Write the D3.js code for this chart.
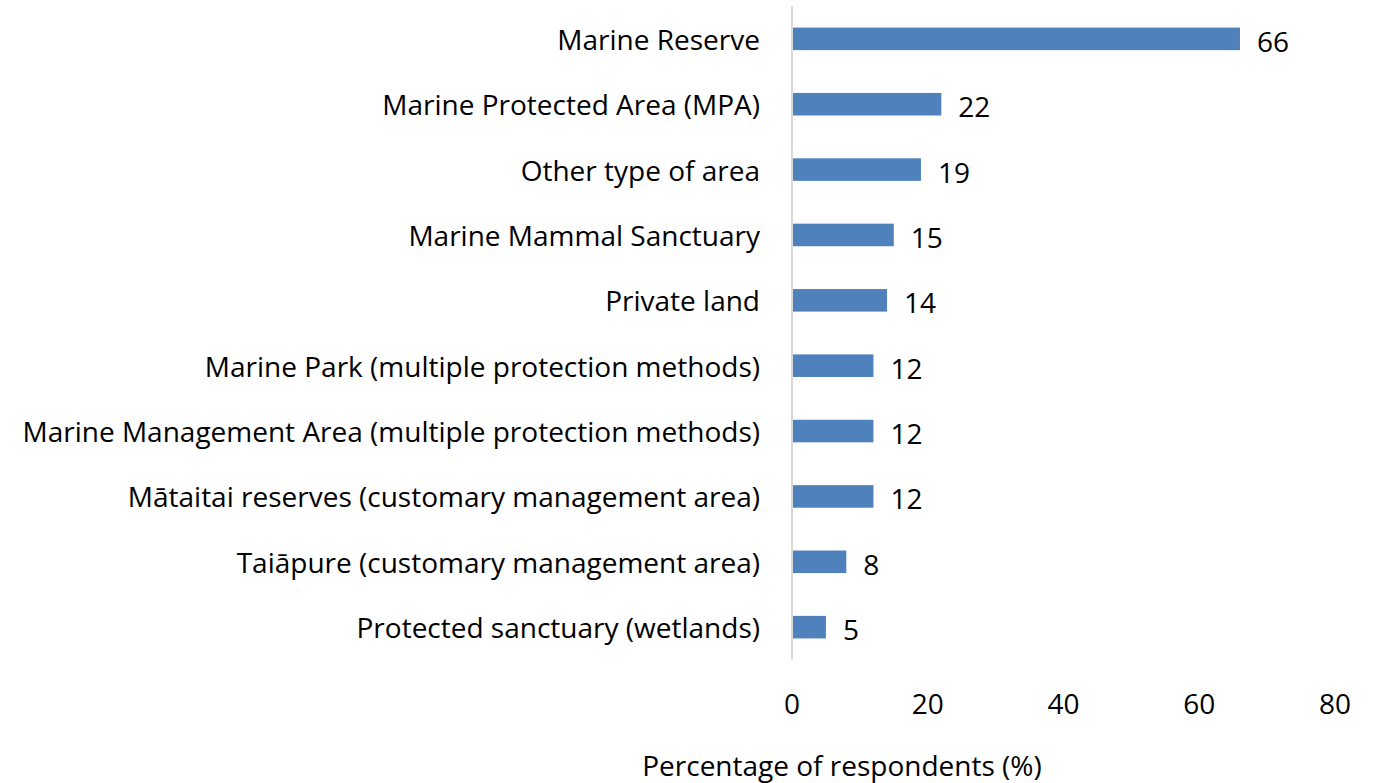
<!DOCTYPE html>
<html>
<head>
<meta charset="utf-8">
<script src="https://cdn.jsdelivr.net/npm/d3@7"></script>
<style>
  html, body { margin: 0; padding: 0; background: #fff; }
  svg { display: block; }
  text { font-family: "Open Sans", Lato, sans-serif; fill: #000; }
</style>
</head>
<body>
<svg id="chart" width="1380" height="783"></svg>
<script>
// Protection type categories (top to bottom) and share of respondents (%)
const categories = [
  "Marine Reserve",
  "Marine Protected Area (MPA)",
  "Other type of area",
  "Marine Mammal Sanctuary",
  "Private land",
  "Marine Park (multiple protection methods)",
  "Marine Management Area (multiple protection methods)",
  "Mātaitai reserves (customary management area)",
  "Taiāpure (customary management area)",
  "Protected sanctuary (wetlands)"
];
const values = [66, 22, 19, 15, 14, 12, 12, 12, 8, 5];
const xTicks = [0, 20, 40, 60, 80];
const xTitle = "Percentage of respondents (%)";

const svg = d3.select("#chart");

// size the font so the longest category label spans its slot left of the axis
const probe = svg.append("text").style("font-size", "26px")
  .text(categories[6]);
const probeW = probe.node().getComputedTextLength();
probe.remove();
const fontSize = Math.min(28, 26 * 746 / probeW);

const x = d3.scaleLinear().domain([0, 80]).range([792, 1335]);
const y = d3.scaleBand().domain(categories).range([6, 660]).paddingInner(0.655).paddingOuter(0.33);

// vertical category axis line
svg.append("line")
  .attr("x1", x(0)).attr("x2", x(0))
  .attr("y1", 6).attr("y2", 660)
  .attr("stroke", "#D9D9D9").attr("stroke-width", 2);

// bars
svg.selectAll("rect.bar").data(values).join("rect")
  .attr("class", "bar")
  .attr("x", x(0) + 1)
  .attr("y", (d, i) => y(categories[i]))
  .attr("width", d => x(d) - x(0) - 1)
  .attr("height", y.bandwidth())
  .attr("fill", "#4F81BD");

// value labels
svg.selectAll("text.val").data(values).join("text")
  .attr("class", "val")
  .attr("x", d => x(d) + 17)
  .attr("y", (d, i) => y(categories[i]) + y.bandwidth() / 2 + 2)
  .attr("dominant-baseline", "central")
  .style("font-size", fontSize + "px")
  .text(d => d);

// category labels
svg.selectAll("text.cat").data(categories).join("text")
  .attr("class", "cat")
  .attr("x", 760)
  .attr("y", d => y(d) + y.bandwidth() / 2)
  .attr("text-anchor", "end")
  .attr("dominant-baseline", "central")
  .style("font-size", fontSize + "px")
  .text(d => d);

// x tick labels
svg.selectAll("text.tick").data(xTicks).join("text")
  .attr("class", "tick")
  .attr("x", d => x(d))
  .attr("y", 703)
  .attr("text-anchor", "middle")
  .attr("dominant-baseline", "central")
  .style("font-size", fontSize + "px")
  .text(d => d);

// x axis title
svg.append("text")
  .attr("x", 842)
  .attr("y", 765)
  .attr("text-anchor", "middle")
  .attr("dominant-baseline", "central")
  .style("font-size", fontSize + "px")
  .text(xTitle);
</script>
</body>
</html>
